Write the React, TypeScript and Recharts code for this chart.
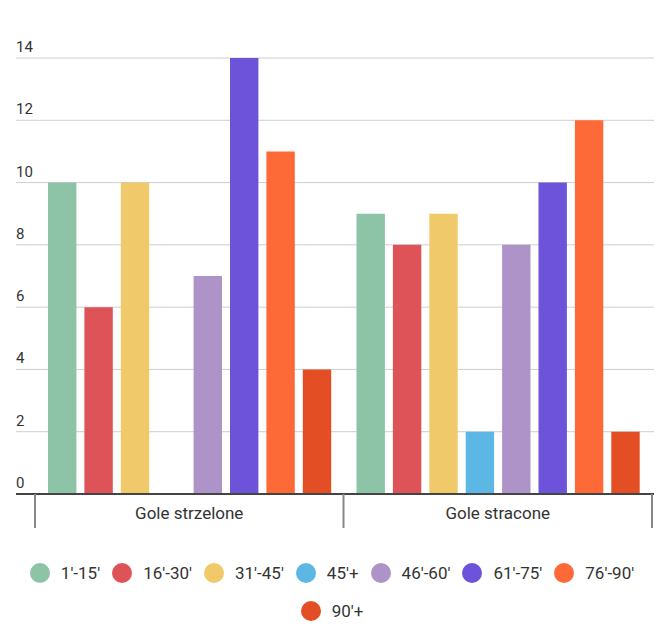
import React from "react";
import { BarChart, Bar, XAxis, YAxis, CartesianGrid } from "recharts";

const categories = ["Gole strzelone", "Gole stracone"];
const seriesNames = ["1'-15'", "16'-30'", "31'-45'", "45'+", "46'-60'", "61'-75'", "76'-90'", "90'+"];
const seriesColors = ["#8dc4a8", "#de5358", "#f0ca6a", "#5db7e5", "#ad93c8", "#6d52da", "#fe6a37", "#e44e24"];
const golesStrzelone = [10, 6, 10, 0, 7, 14, 11, 4];
const golesStracone = [9, 8, 9, 2, 8, 10, 12, 2];
const yTicks = [0, 2, 4, 6, 8, 10, 12, 14];

const seriesValues = [golesStrzelone, golesStracone];
const data = categories.map((name, ci) => {
  const row: Record<string, any> = { name };
  seriesNames.forEach((s, si) => {
    row["s" + si] = seriesValues[ci][si];
  });
  return row;
});

const W = 648;
const H = 530;
const MARGIN = { top: 50, right: 2, left: 0, bottom: 0 };
const YW = 8;
const PAD_L = 19;
const PAD_R = 2;
const BAND = (W - MARGIN.left - MARGIN.right - YW - PAD_L - PAD_R) / categories.length;

const FONT = "Roboto, 'Noto Sans', sans-serif";
const TEXT = "#333";

const YTick = (props: any) => {
  const { x, y, payload } = props;
  return (
    <text x={x} y={y - 6} textAnchor="start" fill={TEXT} fontSize={15} fontFamily={FONT}>
      {payload.value}
    </text>
  );
};

const XTick = (props: any) => {
  const { x, y, payload, index } = props;
  const half = BAND / 2;
  return (
    <g>
      <line x1={x - half} x2={x - half} y1={y} y2={y + 34} stroke="#888" strokeWidth={2} />
      {index === categories.length - 1 && (
        <line x1={x + half} x2={x + half} y1={y} y2={y + 34} stroke="#888" strokeWidth={2} />
      )}
      <text x={x} y={y + 25} textAnchor="middle" fill={TEXT} fontSize={17} fontFamily={FONT}>
        {payload.value}
      </text>
    </g>
  );
};

export default function App() {
  return (
    <div style={{ width: W, fontFamily: FONT }}>
      <BarChart
        width={W}
        height={H}
        data={data}
        margin={MARGIN}
        barSize={28.4}
        barGap={8}
      >
        <CartesianGrid vertical={false} stroke="#cfcfcf" strokeWidth={1} />
        <XAxis
          dataKey="name"
          height={H - MARGIN.top - 436}
          padding={{ left: PAD_L, right: PAD_R }}
          tickLine={false}
          tickSize={0}
          tickMargin={0}
          axisLine={{ stroke: "#444", strokeWidth: 2 }}
          tick={<XTick />}
          interval={0}
        />
        <YAxis
          width={YW}
          domain={[0, 14]}
          ticks={yTicks}
          axisLine={false}
          tickLine={false}
          tickSize={0}
          tickMargin={0}
          tick={<YTick />}
          interval={0}
        />
        {seriesNames.map((s, i) => (
          <Bar key={s} dataKey={"s" + i} name={s} fill={seriesColors[i]} isAnimationActive={false} />
        ))}
      </BarChart>
      <div
        style={{
          marginTop: 16,
          width: W,
          display: "flex",
          flexWrap: "wrap",
          justifyContent: "center",
          columnGap: 12,
        }}
      >
        {seriesNames.map((s, i) => (
          <div key={s} style={{ display: "flex", alignItems: "center", height: 38 }}>
            <span
              style={{
                display: "inline-block",
                width: 20,
                height: 20,
                borderRadius: "50%",
                background: seriesColors[i],
                marginRight: 11,
              }}
            />
            <span style={{ fontSize: 17, color: TEXT }}>{s}</span>
          </div>
        ))}
      </div>
    </div>
  );
}
